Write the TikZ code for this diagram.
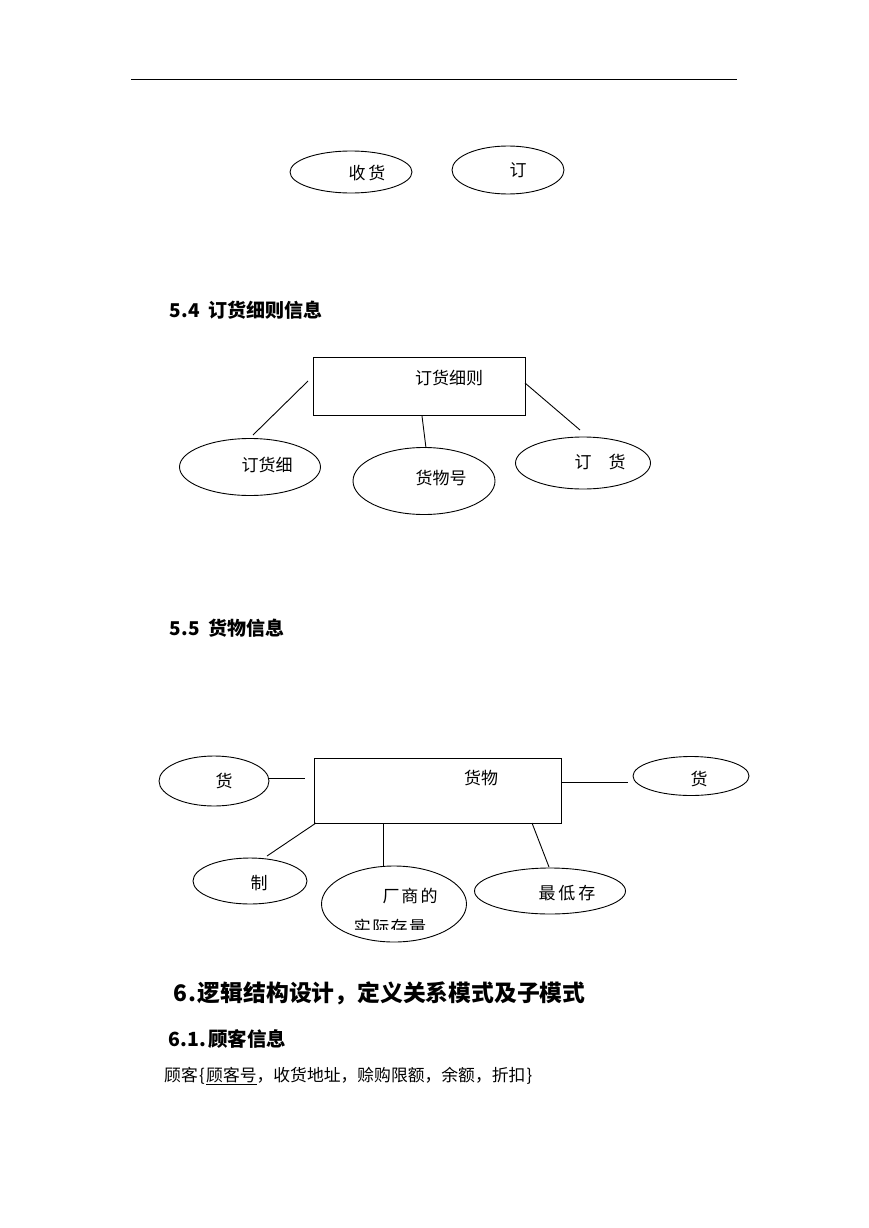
\documentclass[tikz,border=0pt]{standalone}
\usepackage{fontspec}
\setmainfont{Liberation Serif}
\newfontfamily\cjk{Noto Sans CJK SC}
\usetikzlibrary{shapes.geometric}
\newcommand\hw[1]{\makebox[0.5em][c]{#1}}
\tikzset{
  ln/.style={line width=0.9pt},
  ell/.style={draw, ellipse, line width=0.9pt, inner sep=0pt, outer sep=0pt},
  box/.style={draw, rectangle, line width=0.9pt, inner sep=0pt, outer sep=0pt},
  lab/.style={inner sep=0pt, font=\cjk\fontsize{17}{17}\selectfont},
  head/.style={inner sep=0pt, anchor=west, font=\cjk\bfseries\fontsize{19}{19}\selectfont},
  bighead/.style={inner sep=0pt, anchor=west, font=\cjk\bfseries\fontsize{22.8}{22.8}\selectfont},
  body/.style={inner sep=0pt, anchor=west, font=\cjk\fontsize{16.8}{16.8}\selectfont},
}
\begin{document}
\begin{tikzpicture}[x=1pt,y=-1pt]
\useasboundingbox (0,0) rectangle (869,1228);

% top rule
\coordinate (r1) at (131,79);
\coordinate (r2) at (737,79);
\draw[ln] (r1) -- (r2);

% top ellipses
\node[ell, minimum width=122, minimum height=42] (e1) at (351,172) {};
\node[lab] (t1) at (367,173) {收\hspace{3pt}货};
\node[ell, minimum width=112, minimum height=48] (e2) at (508,170) {};
\node[lab] (t2) at (518,170) {订};

% 5.4
\node[head] (h54) at (170,310) {\hw{5}\hw{.}\hw{4}\hw{ }订货细则信息};
\node[box, minimum width=212, minimum height=58] (b1) at (419,386) {};
\node[lab] (tb1) at (449,378) {订货细则};

\node[ell, minimum width=141, minimum height=57] (e3) at (250,467) {};
\node[lab] (t3) at (267,465) {订货细};
\node[ell, minimum width=142, minimum height=67] (e4) at (424,481) {};
\node[lab] (t4) at (441,478) {货物号};
\node[ell, minimum width=135, minimum height=52] (e5) at (583,463) {};
\node[lab] (t5) at (600,462) {订\hspace{1em}货};

\coordinate (c1a) at (308,381); \coordinate (c1b) at (253,435);
\coordinate (c2a) at (422,416); \coordinate (c2b) at (426,448);
\coordinate (c3a) at (525,383); \coordinate (c3b) at (580,430);
\draw[ln] (c1a) -- (c1b);
\draw[ln] (c2a) -- (c2b);
\draw[ln] (c3a) -- (c3b);

% 5.5
\node[head] (h55) at (170,628) {\hw{5}\hw{.}\hw{5}\hw{ }货物信息};
\node[box, minimum width=247, minimum height=65] (b2) at (437.5,790.5) {};
\node[lab] (tb2) at (481,778) {货物};

\node[ell, minimum width=110, minimum height=50] (e6) at (214,781) {};
\node[lab] (t6) at (224,781) {货};
\node[ell, minimum width=116, minimum height=39] (e7) at (691,776) {};
\node[lab] (t7) at (699,779) {货};
\node[ell, minimum width=114, minimum height=46] (e8) at (250,881) {};
\node[lab] (t8) at (259,883) {制};
\node[ell, minimum width=145, minimum height=76] (e9) at (394,904) {};
\node[lab] (t9) at (410,896) {厂\hspace{2pt}商\hspace{2pt}的};
\begin{scope}
  \clip (340,905) rectangle (440,929);
  \node[lab] (t10) at (390,927) {实\hspace{1.5pt}际\hspace{1.5pt}存\hspace{1.5pt}量};
\end{scope}
\node[ell, minimum width=151, minimum height=46] (e10) at (550,891) {};
\node[lab] (t11) at (567,893) {最\hspace{3pt}低\hspace{3pt}存};

\coordinate (d1a) at (269,778); \coordinate (d1b) at (305,778);
\coordinate (d2a) at (561,782); \coordinate (d2b) at (628,782);
\coordinate (d3a) at (316,823); \coordinate (d3b) at (267,856);
\coordinate (d4a) at (383,823); \coordinate (d4b) at (383,866);
\coordinate (d5a) at (532,823); \coordinate (d5b) at (549,867);
\draw[ln] (d1a) -- (d1b);
\draw[ln] (d2a) -- (d2b);
\draw[ln] (d3a) -- (d3b);
\draw[ln] (d4a) -- (d4b);
\draw[ln] (d5a) -- (d5b);

% 6
\node[bighead] (h6) at (175,993) {\hw{6}\hw{.}逻辑结构设计，定义关系模式及子模式};
\node[head, font=\cjk\bfseries\fontsize{19.5}{19.5}\selectfont] (h61) at (169,1039) {\hw{6}\hw{.}\hw{1}\hw{.}顾客信息};
\node[body] (p1) at (164,1076) {顾客\hw{\{}\underline{顾客号}，收货地址，赊购限额，余额，折扣\hw{\}}};
\end{tikzpicture}
\end{document}
